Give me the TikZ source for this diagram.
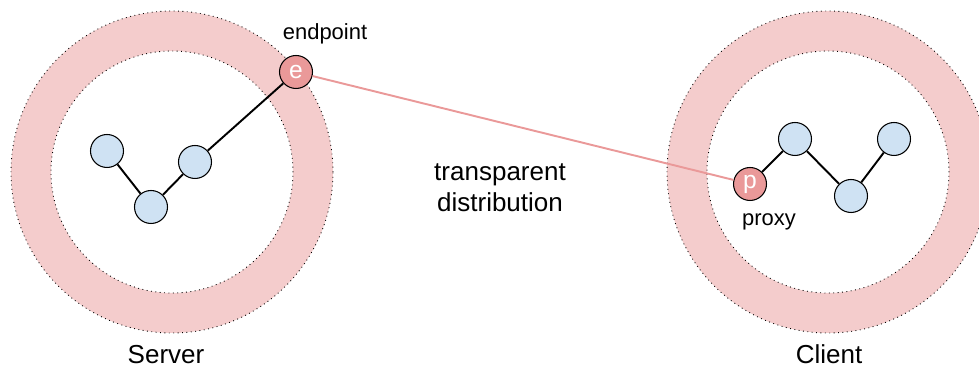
\documentclass[tikz,border=0pt]{standalone}
\usepackage{fontspec}
\setmainfont{Liberation Sans}
\usepackage{tikz}
\usetikzlibrary{positioning,calc}
\usepackage{xcolor}

\definecolor{ringpink}{HTML}{F4CCCC}
\definecolor{nodeblue}{HTML}{CFE2F3}
\definecolor{nodered}{HTML}{EA9999}

\tikzset{
  obj/.style={circle, draw=black, line width=0.6pt, fill=nodeblue,
    minimum size=0.66cm, inner sep=0pt},
  stub/.style={obj, fill=nodered, text=white, font=\fontsize{14}{16}\selectfont},
  ref/.style={line width=1.1pt, black},
  remote/.style={line width=1.1pt, nodered},
  lbl/.style={font=\fontsize{12.5}{15}\selectfont},
  big/.style={font=\fontsize{14.8}{17.5}\selectfont, align=center}
}

\begin{document}
\begin{tikzpicture}
    \useasboundingbox (0cm, 0cm) rectangle (19.58cm, 7.34cm);
    \clip (0cm, 0cm) rectangle (19.58cm, 7.34cm);

      % Rings
      \fill[ringpink, even odd rule] (3.44cm, 3.90cm) circle (3.22cm)
        (3.44cm, 3.90cm) circle (2.42cm);
      \draw[dotted, line width=0.5pt] (3.44cm, 3.90cm) circle (3.22cm);
      \draw[dotted, line width=0.5pt] (3.44cm, 3.90cm) circle (2.42cm);

      \fill[ringpink, even odd rule] (16.56cm, 3.90cm) circle (3.22cm)
        (16.56cm, 3.90cm) circle (2.42cm);
      \draw[dotted, line width=0.5pt] (16.56cm, 3.90cm) circle (3.22cm);
      \draw[dotted, line width=0.5pt] (16.56cm, 3.90cm) circle (2.42cm);

      % Server
      \node[obj] (s1) at (2.14cm, 4.32cm) {};
      \node[obj] (s2) at (3.02cm, 3.20cm) {};
      \node[obj] (s3) at (3.90cm, 4.10cm) {};
      \node[stub] (e) at (5.92cm, 5.90cm) {e};

      % Client
      \node[stub] (p) at (15.00cm, 3.66cm) {p};
      \node[obj] (c1) at (15.90cm, 4.56cm) {};
      \node[obj] (c2) at (17.02cm, 3.42cm) {};
      \node[obj] (c3) at (17.88cm, 4.56cm) {};

      % References
      \draw[ref] (s1) -- (s2);
      \draw[ref] (s2) -- (s3);
      \draw[ref] (s3) -- (e);
      \draw[ref] (p) -- (c1);
      \draw[ref] (c1) -- (c2);
      \draw[ref] (c2) -- (c3);
      \draw[remote] (e) -- (p);

      % Labels
      \node[lbl] (endpoint) at (6.50cm, 6.66cm) {endpoint};
      \node[lbl] (proxy) at (15.38cm, 2.90cm) {proxy};
      \node[big] (dist) at (10.00cm, 3.58cm) {transparent\\distribution};
      \node[big, anchor=base, inner sep=0pt] (server) at (3.32cm, 0.06cm) {Server};
      \node[big, anchor=base, inner sep=0pt] (client) at (16.58cm, 0.06cm) {Client};
  \end{tikzpicture}
\end{document}
